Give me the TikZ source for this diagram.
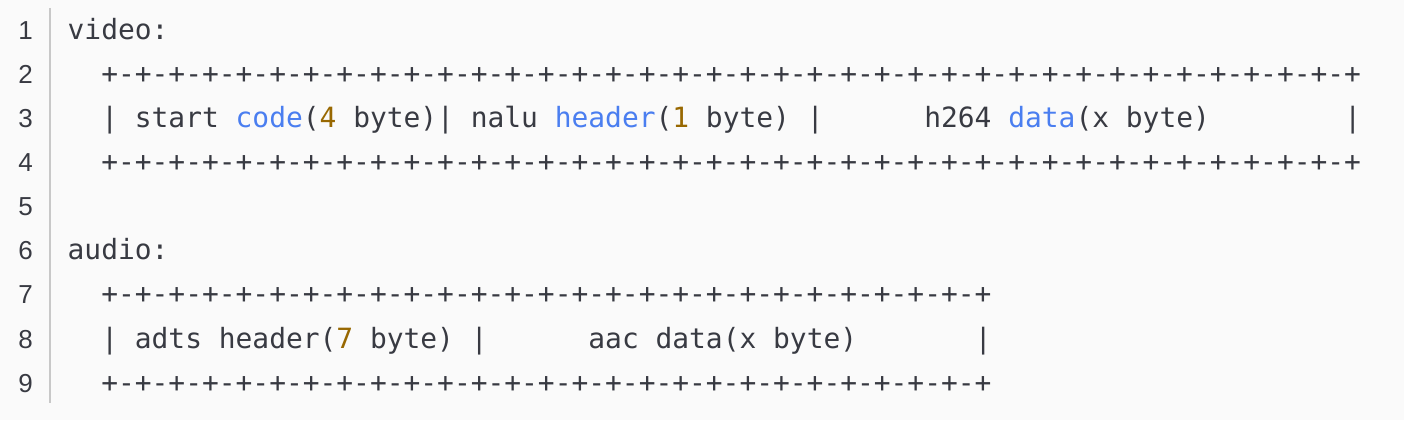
\documentclass[tikz,border=0pt]{standalone}
\usepackage{fontspec}
\setmonofont{DejaVu Sans Mono}
\newfontfamily\numfont{Liberation Sans}
\definecolor{bg}{HTML}{FAFAFA}
\definecolor{fg}{HTML}{383A42}
\definecolor{kwblue}{HTML}{4A7EF0}
\definecolor{kwnum}{HTML}{986801}
\definecolor{sepgray}{HTML}{C8C8C8}
\newcommand\kwb[1]{\textcolor{kwblue}{#1}}
\newcommand\kwn[1]{\textcolor{kwnum}{#1}}
\newcommand\tenpairs{+-+-+-+-+-+-+-+-+-+-}
\frenchspacing
\begin{document}
\begin{tikzpicture}[x=1pt,y=1pt,
  codeline/.style={anchor=base west,inner sep=0pt,text=fg,font=\ttfamily\fontsize{27.9}{30}\selectfont},
  lnum/.style={anchor=base east,inner sep=0pt,text=fg,font=\numfont\fontsize{26}{30}\selectfont},
  sepline/.style={draw=sepgray,line width=2pt}]
\fill[bg] (0,0) rectangle (1404,-420);
\useasboundingbox (0,0) rectangle (1404,-420);
\coordinate (septop) at (49.5,-8);
\coordinate (sepbot) at (49.5,-403);
\draw[sepline] (septop) -- (sepbot);
\foreach \i in {1,...,9}{
  \node[lnum] (n\i) at (33,{-39.3-44.1*(\i-1)}) {\i};
}
\node[codeline] (l1) at (67.5,-39.3) {video:};
\node[codeline] (l2) at (67.5,-83.4) {~~\tenpairs\tenpairs\tenpairs+-+-+-+-+-+-+-+};
\node[codeline] (l3) at (67.5,-127.5) {~~|~start~\kwb{code}(\kwn{4}~byte)|~nalu~\kwb{header}(\kwn{1}~byte)~|~~~~~~h264~\kwb{data}(x~byte)~~~~~~~~|};
\node[codeline] (l4) at (67.5,-171.6) {~~\tenpairs\tenpairs\tenpairs+-+-+-+-+-+-+-+};
\node[codeline] (l6) at (67.5,-259.8) {audio:};
\node[codeline] (l7) at (67.5,-303.9) {~~\tenpairs\tenpairs+-+-+-+-+-+-+};
\node[codeline] (l8) at (67.5,-348.0) {~~|~adts~header(\kwn{7}~byte)~|~~~~~~aac~data(x~byte)~~~~~~~|};
\node[codeline] (l9) at (67.5,-392.1) {~~\tenpairs\tenpairs+-+-+-+-+-+-+};
\end{tikzpicture}
\end{document}
